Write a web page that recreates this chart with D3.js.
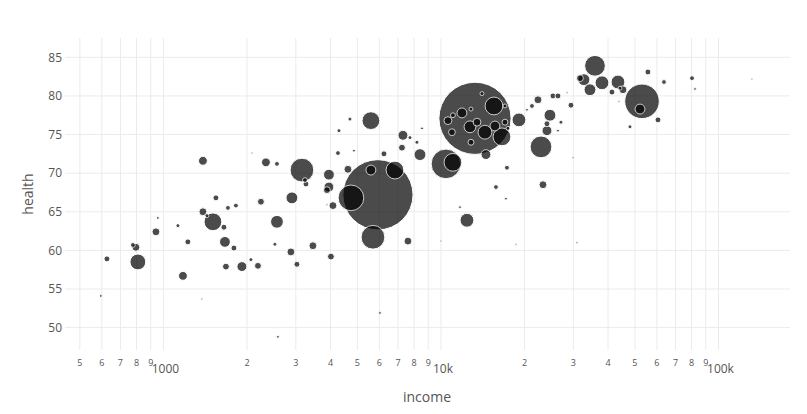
<!DOCTYPE html>
<html><head><meta charset="utf-8">
<script src="https://cdn.jsdelivr.net/npm/d3@7"></script>
<style>body{margin:0;background:#fff}</style>
</head><body><svg id="c" width="807" height="414"></svg>
<script>
const income = [595,626,776,796,809,955,940,1128,1225,1176,1388,2341,2565,3156,3236,3263,1546,2246,2904,1388,1435,1508,1652,1708,1825,2565,2522,2880,3457,3028,2067,1680,1918,2191,1376,2586,2084,1666,1795,
3948,3948,3883,4623,4255,4858,4082,3883,5929,4739,5593,6828,5689,7605,4014,6028,5593,4700,4291,7296,7733,8194,8542,7236,8402,6232,10424,11046,12407,11708,10000,
13264,14054,15524,17010,11904,11046,12830,10597,12724,10954,14405,15653,13485,16592,17010,17436,12830,19102,14527,17290,15783,17149,18633,
23316,22932,22365,21278,20414,25327,26398,29412,24706,24099,24099,26398,27062,29903,30910,28453,35892,32757,38038,34434,31690,43432,45277,41325,44157,53014,52140,55690,63620,60534,47980,80280,82300,132000,43793];
const health = [54.1,58.9,60.7,60.4,58.5,64.2,62.4,63.2,61.1,56.7,71.6,71.4,71.2,70.4,69.1,68.6,66.8,66.3,66.8,65.0,64.5,63.7,63.0,65.5,65.8,63.7,60.8,59.8,60.6,58.2,58.8,57.9,57.9,58.0,53.7,48.8,72.6,61.1,60.3,
69.8,68.2,67.8,70.5,72.6,72.9,65.8,65.9,67.2,66.8,70.4,70.4,61.7,61.2,59.2,51.9,76.8,77.0,75.5,74.9,74.6,74.0,75.8,73.3,72.4,72.5,71.2,71.4,63.9,65.6,61.2,
77.1,80.3,78.7,78.7,77.8,77.5,78.3,76.8,76.0,75.3,75.3,76.1,76.6,74.7,76.6,75.8,74.0,76.9,72.4,70.7,68.2,66.7,60.8,
68.5,73.4,79.5,78.7,78.2,80.0,80.0,78.8,77.5,76.4,75.5,75.5,76.6,72.0,61.0,80.4,83.9,82.1,81.7,80.8,82.3,81.8,80.8,80.5,81.0,79.3,78.3,83.1,81.8,76.9,76.0,82.3,80.9,82.2,79.3];
const population = [2,9,6,16,64,2,16,4,9,20,20,20,6,144,6,9,9,12,36,16,4,81,9,6,6,42,4,16,16,9,4,12,25,12,1,2,1,30,9,
30,25,12,16,6,2,16,1,1260,169,25,81,144,16,12,2,81,4,4,25,4,4,2,12,36,9,225,81,49,2,1,
1332,4,81,4,25,6,4,16,36,12,49,25,16,81,9,4,9,49,25,6,6,2,1,
16,121,16,6,2,9,9,9,36,9,25,2,4,1,1,1,110,36,49,36,12,49,16,9,4,306,25,9,6,9,4,6,2,1,1];
const yTicks = [50,55,60,65,70,75,80,85];
const xTickValues = [500,600,700,800,900,1000,2000,3000,4000,5000,6000,7000,8000,9000,10000,20000,30000,40000,50000,60000,70000,80000,90000,100000];
const xTickLabels = ["5","6","7","8","9","1000","2","3","4","5","6","7","8","9","10k","2","3","4","5","6","7","8","9","100k"];
const majorTicks = [1000,10000,100000];

const L=65, R=790, T=38, B=350;
const svg = d3.select("#c");
const x = d3.scaleLog().domain([442,181000]).range([L,R]);
const y = d3.scaleLinear().domain([47.1,87.5]).range([B,T]);
const r = d3.scaleSqrt().domain([0,1400]).range([0,37]);
const font = "'Open Sans', sans-serif";

const grid = svg.append("g");
grid.selectAll(".vx").data(xTickValues).join("line")
  .attr("x1",d=>x(d)).attr("x2",d=>x(d)).attr("y1",T).attr("y2",B)
  .attr("stroke","#ebebeb").attr("stroke-width",1);
grid.selectAll(".hy").data(yTicks).join("line")
  .attr("x1",L).attr("x2",R).attr("y1",d=>y(d)).attr("y2",d=>y(d))
  .attr("stroke","#ebebeb").attr("stroke-width",1);

svg.append("g").selectAll("text").data(yTicks).join("text")
  .attr("x",L-3).attr("y",d=>y(d)).attr("dy","0.35em")
  .attr("text-anchor","end").attr("font-family",font).attr("font-size",12)
  .attr("fill","#555").text(d=>d);

svg.append("g").selectAll("text").data(xTickValues).join("text")
  .attr("x",d=>x(d)+ (majorTicks.includes(d)?2:0))
  .attr("y",d=>majorTicks.includes(d)?369:363).attr("dy","0.35em")
  .attr("text-anchor","middle").attr("font-family",font)
  .attr("font-size",d=>majorTicks.includes(d)?12:9)
  .attr("fill","#555").text((d,i)=>xTickLabels[i]);

svg.append("text").attr("transform","translate(28,194) rotate(-90)")
  .attr("text-anchor","middle").attr("dy","0.35em").attr("font-family",font)
  .attr("font-size",14).attr("fill","#555").text("health");
svg.append("text").attr("x",427).attr("y",397).attr("dy","0.35em")
  .attr("text-anchor","middle").attr("font-family",font)
  .attr("font-size",14).attr("fill","#555").text("income");

const data = income.map((v,i)=>({income:v, health:health[i], pop:population[i]}))
  .sort((a,b)=>b.pop-a.pop);
svg.append("g").selectAll("circle").data(data).join("circle")
  .attr("cx",d=>x(d.income)).attr("cy",d=>y(d.health))
  .attr("r",d=>Math.max(1,r(d.pop)))
  .attr("fill","#000").attr("stroke","#fff").attr("stroke-width",1)
  .attr("opacity",0.7);
</script></body></html>
